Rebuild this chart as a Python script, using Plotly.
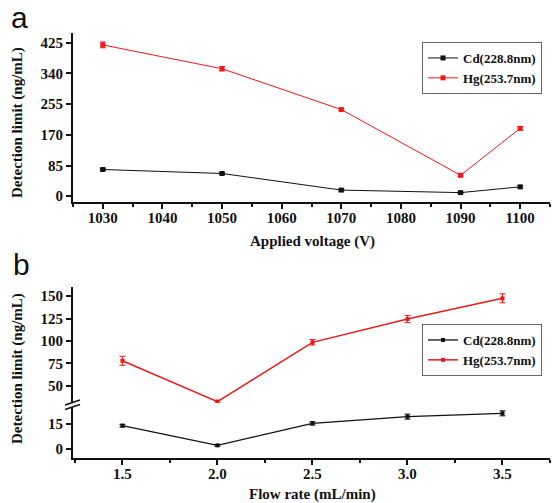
import plotly.graph_objects as go

# ---- data: panel a ----
voltage = [1030, 1050, 1070, 1090, 1100]
cd_a = [74, 63, 17, 10, 26]
cd_a_err = [3, 3, 3, 2, 3]
hg_a = [419, 353, 240, 58, 188]
hg_a_err = [8, 6, 3, 3, 5]

# ---- data: panel b ----
flow = [1.5, 2.0, 2.5, 3.0, 3.5]
cd_b = [14, 2.2, 15.4, 19.4, 21.4]
cd_b_err = [0.8, 0.5, 1.0, 1.5, 1.5]
hg_b = [78, 32.6, 98.5, 124.4, 147.4]
hg_b_err = [5, 1.5, 3, 4, 5]

a_xticks = [1030, 1040, 1050, 1060, 1070, 1080, 1090, 1100]
a_yticks = [0, 85, 170, 255, 340, 425]
b_xticklabels = ["1.5", "2.0", "2.5", "3.0", "3.5"]
b_low_ticks = [0, 15]
b_up_ticks = [50, 75, 100, 125, 150]

W, H = 555, 503
L, R, T, B = 73, 5, 33, 45
PW, PH = W - L - R, H - T - B


def px(x):
    return (x - L) / PW


def py(y):
    return (H - B - y) / PH


RED = "#f01818"
BLK = "#111111"
FONT = "Liberation Serif"

fig = go.Figure()

fig.add_trace(go.Scatter(x=voltage, y=cd_a, name="Cd(228.8nm)", mode="lines+markers",
                         line=dict(color=BLK, width=1), marker=dict(symbol="square", size=5, color=BLK),
                         error_y=dict(type="data", array=cd_a_err, color=BLK, thickness=1, width=3),
                         xaxis="x", yaxis="y", legend="legend"))
fig.add_trace(go.Scatter(x=voltage, y=hg_a, name="Hg(253.7nm)", mode="lines+markers",
                         line=dict(color=RED, width=1), marker=dict(symbol="square", size=5, color=RED),
                         error_y=dict(type="data", array=hg_a_err, color=RED, thickness=1, width=3),
                         xaxis="x", yaxis="y", legend="legend"))

fig.add_trace(go.Scatter(x=flow, y=cd_b, name="Cd(228.8nm)", mode="lines+markers",
                         line=dict(color=BLK, width=1.3), marker=dict(symbol="square", size=4, color=BLK),
                         error_y=dict(type="data", array=cd_b_err, color=BLK, thickness=1, width=3),
                         xaxis="x2", yaxis="y2", legend="legend2"))
fig.add_trace(go.Scatter(x=flow, y=hg_b, name="Hg(253.7nm)", mode="lines+markers",
                         line=dict(color=RED, width=1.5), marker=dict(symbol="square", size=4, color=RED),
                         error_y=dict(type="data", array=hg_b_err, color=RED, thickness=1, width=3),
                         xaxis="x2", yaxis="y3", legend="legend2"))

tickfont = dict(family=FONT, size=15, color="#111", weight="bold")
axis_common = dict(showline=True, linecolor="#111", linewidth=2, ticks="outside",
                   tickwidth=1.5, ticklen=5, tickcolor="#111", showgrid=False,
                   zeroline=False, tickfont=tickfont)
xaxis_extra = dict(ticklabelstandoff=-4)
legfont = dict(family=FONT, size=13, color="#111", weight="bold")

fig.update_layout(
    width=W, height=H,
    margin=dict(l=L, r=R, t=T, b=B),
    paper_bgcolor="white", plot_bgcolor="white",
    xaxis=dict(domain=[0, 1], anchor="y", range=[1025, 1105], tickvals=a_xticks,
               minor=dict(dtick=5, tick0=1025, ticks="outside", ticklen=3, tickwidth=1.5, tickcolor="#111"),
               **axis_common, **xaxis_extra),
    yaxis=dict(domain=[py(202), 1], anchor="x", range=[-16, 452], tickvals=a_yticks, **axis_common),
    xaxis2=dict(domain=[0, 1], anchor="y2", range=[1.24, 3.75], tickvals=flow, ticktext=b_xticklabels,
                minor=dict(dtick=0.25, tick0=1.25, ticks="outside", ticklen=3, tickwidth=1.5, tickcolor="#111"),
                **axis_common, **xaxis_extra),
    yaxis2=dict(domain=[0, py(407)], anchor="x2", range=[-5.4, 25.2], tickvals=b_low_ticks, **axis_common),
    yaxis3=dict(domain=[py(403), py(287)], anchor="x2", range=[31.1, 160], tickvals=b_up_ticks, **axis_common),
    legend=dict(x=px(422), y=py(42), xanchor="left", yanchor="top", bordercolor="#666", borderwidth=1,
                bgcolor="white", font=legfont, tracegroupgap=0, itemwidth=30),
    legend2=dict(x=px(422), y=py(324), xanchor="left", yanchor="top", bordercolor="#666", borderwidth=1,
                 bgcolor="white", font=legfont, tracegroupgap=0, itemwidth=30),
    showlegend=True,
)

ann_font = dict(family=FONT, size=15, color="#111", weight="bold")


def ann(text, x, y, font, angle=0):
    fig.add_annotation(text=text, textangle=angle, x=px(x), y=py(y), xref="paper", yref="paper",
                       xanchor="center", yanchor="middle", showarrow=False, font=font)


ann("Detection limit (ng/mL)", 17, 123, ann_font, -90)
ann("Detection limit (ng/mL)", 17, 369, ann_font, -90)
ann("Applied voltage (V)", 312, 241, ann_font)
ann("Flow rate (mL/min)", 312, 494, ann_font)
ann("a", 19, 18, dict(family="Liberation Sans", size=30, color="#111"))
ann("b", 21, 264, dict(family="Liberation Sans", size=30, color="#111"))

# axis break marks
for dy in (0, 4.5):
    fig.add_shape(type="line", xref="paper", yref="paper",
                  x0=px(65), y0=py(405 + dy), x1=px(80), y1=py(400 + dy),
                  line=dict(color="#111", width=1.5))

fig.write_html("out.html", config={"displayModeBar": False},
               post_script="document.body.style.margin='0';document.body.style.overflow='hidden';")
